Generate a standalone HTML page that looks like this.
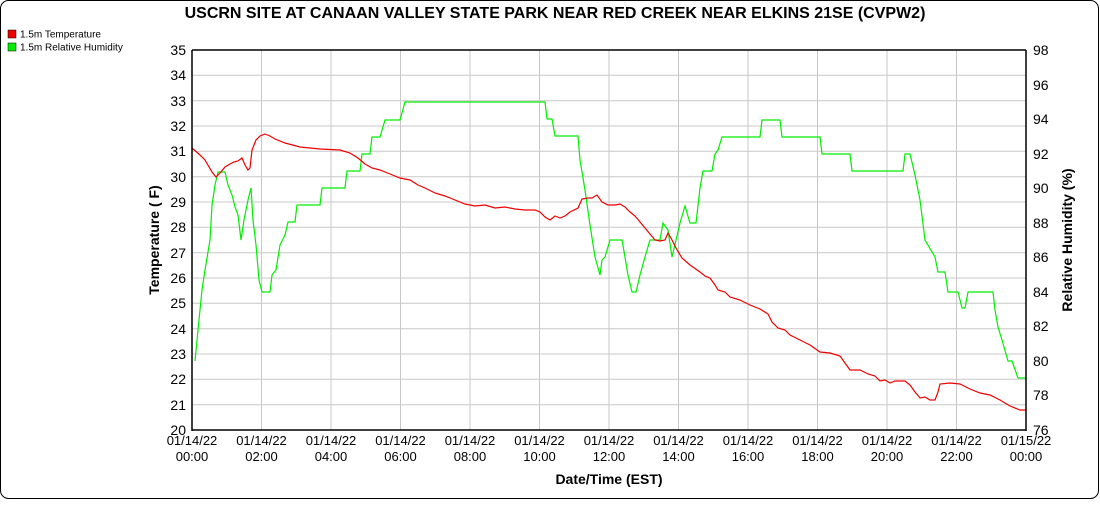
<!DOCTYPE html>
<html><head><style>
body{margin:0;background:#fff;}
svg text{font-family:"Liberation Sans",Arial,sans-serif;}
</style></head><body>
<svg width="1100" height="500" xmlns="http://www.w3.org/2000/svg">
<rect x="0.5" y="0.5" width="1098" height="498" rx="8" fill="#fff" stroke="#000"/>
<text x="555" y="18" text-anchor="middle" font-size="16" font-weight="bold">USCRN SITE AT CANAAN VALLEY STATE PARK NEAR RED CREEK NEAR ELKINS 21SE (CVPW2)</text>
<rect x="8" y="30" width="8" height="8" fill="#e00" stroke="#000" stroke-width="0.5"/>
<text x="20" y="37.5" font-size="10">1.5m Temperature</text>
<rect x="8" y="43" width="8" height="8" fill="#0e0" stroke="#000" stroke-width="0.5"/>
<text x="20" y="50.5" font-size="10">1.5m Relative Humidity</text>
<g stroke="#c8c8c8" stroke-width="1">
<line x1="192" x2="1026" y1="75.3" y2="75.3"/><line x1="192" x2="1026" y1="100.7" y2="100.7"/><line x1="192" x2="1026" y1="126" y2="126"/><line x1="192" x2="1026" y1="151.3" y2="151.3"/><line x1="192" x2="1026" y1="176.7" y2="176.7"/><line x1="192" x2="1026" y1="202" y2="202"/><line x1="192" x2="1026" y1="227.3" y2="227.3"/><line x1="192" x2="1026" y1="252.7" y2="252.7"/><line x1="192" x2="1026" y1="278" y2="278"/><line x1="192" x2="1026" y1="303.3" y2="303.3"/><line x1="192" x2="1026" y1="328.7" y2="328.7"/><line x1="192" x2="1026" y1="354" y2="354"/><line x1="192" x2="1026" y1="379.3" y2="379.3"/><line x1="192" x2="1026" y1="404.7" y2="404.7"/>
<line y1="50" y2="430" x1="261.5" x2="261.5"/><line y1="50" y2="430" x1="331" x2="331"/><line y1="50" y2="430" x1="400.5" x2="400.5"/><line y1="50" y2="430" x1="470" x2="470"/><line y1="50" y2="430" x1="539.5" x2="539.5"/><line y1="50" y2="430" x1="609" x2="609"/><line y1="50" y2="430" x1="678.5" x2="678.5"/><line y1="50" y2="430" x1="748" x2="748"/><line y1="50" y2="430" x1="817.5" x2="817.5"/><line y1="50" y2="430" x1="887" x2="887"/><line y1="50" y2="430" x1="956.5" x2="956.5"/>
</g>
<polyline fill="none" stroke="#0e0" stroke-width="1.2" points="195,361 198,330 202,290 205,270 210,240 212,205 215,185 218,172 225,172 228,185 232,195 235,207 238,215 241,240 244,220 248,200 251,188 253,220 256,245 259,280 262,292 270,292 272,275 276,270 280,245 285,235 288,222 295,222 297,205 320,205 322,188 345,188 347,171 360,171 362,154 370,154 372,137 380,137 385,120 400,120 405,102 545,102 547,119 552,119 555,136 578,136 580,160 585,190 590,225 595,257 600,275 602,260 605,257 610,240 622,240 625,257 628,275 632,292 636,292 640,275 645,257 650,240 660,240 663,223 668,230 672,257 676,240 680,223 685,206 690,223 696,223 700,188 703,171 712,171 715,154 718,150 722,137 760,137 762,120 780,120 782,137 820,137 822,154 850,154 852,171 903,171 905,154 910,154 915,175 920,200 925,240 935,257 938,272 945,272 948,292 958,292 962,308 965,308 968,292 993,292 995,310 998,327 1002,340 1008,361 1012,361 1018,378 1026,378"/>
<polyline fill="none" stroke="#e00" stroke-width="1.2" points="192,148 200,155 205,160 212,172 216,177 220,173 225,167 230,164 234,162 238,161 242,158 245,165 248,170 250,168 252,150 256,140 260,136 265,134 270,136 275,139 285,143 300,147 320,149 340,150 350,153 358,158 365,164 372,168 380,170 390,174 400,178 410,180 418,185 425,188 435,193 445,196 455,200 465,204 475,206 485,205 495,208 505,207 515,209 525,210 535,210 540,212 545,217 550,220 555,216 560,218 565,216 570,212 578,208 582,199 588,198 592,198 597,195 602,202 608,205 615,205 620,204 625,207 630,212 635,216 640,222 645,228 650,234 655,240 660,241 665,240 668,233 672,240 676,248 682,258 690,265 700,272 705,276 710,278 715,285 718,290 725,292 730,297 740,300 750,305 760,309 768,314 772,322 778,328 785,330 790,335 800,340 810,345 820,352 830,353 840,356 850,370 860,370 868,374 875,376 880,381 885,380 890,383 895,381 905,381 910,385 915,392 920,398 925,397 930,400 935,400 938,392 940,384 950,383 960,384 970,389 980,393 990,395 1000,400 1010,406 1020,410 1026,410"/>
<g stroke="#000" stroke-width="1.5" fill="none">
<line x1="192" y1="50" x2="192" y2="431"/><line x1="1026" y1="50" x2="1026" y2="431"/>
<line x1="192" y1="50" x2="1026" y2="50"/><line x1="192" y1="430" x2="1026" y2="430"/>
</g>
<g font-size="14" text-anchor="end">
<text x="186" y="55">35</text><text x="186" y="80">34</text><text x="186" y="106">33</text><text x="186" y="131">32</text><text x="186" y="156">31</text><text x="186" y="182">30</text><text x="186" y="207">29</text><text x="186" y="232">28</text><text x="186" y="258">27</text><text x="186" y="283">26</text><text x="186" y="308">25</text><text x="186" y="334">24</text><text x="186" y="359">23</text><text x="186" y="384">22</text><text x="186" y="410">21</text><text x="186" y="435">20</text>
</g>
<g font-size="14">
<text x="1033" y="55">98</text><text x="1033" y="90">96</text><text x="1033" y="124">94</text><text x="1033" y="159">92</text><text x="1033" y="193">90</text><text x="1033" y="228">88</text><text x="1033" y="262">86</text><text x="1033" y="297">84</text><text x="1033" y="331">82</text><text x="1033" y="366">80</text><text x="1033" y="400">78</text><text x="1033" y="435">76</text>
</g>
<g font-size="13" text-anchor="middle">
<text x="192" y="445">01/14/22</text><text x="192" y="461">00:00</text>
<text x="261.5" y="445">01/14/22</text><text x="261.5" y="461">02:00</text>
<text x="331" y="445">01/14/22</text><text x="331" y="461">04:00</text>
<text x="400.5" y="445">01/14/22</text><text x="400.5" y="461">06:00</text>
<text x="470" y="445">01/14/22</text><text x="470" y="461">08:00</text>
<text x="539.5" y="445">01/14/22</text><text x="539.5" y="461">10:00</text>
<text x="609" y="445">01/14/22</text><text x="609" y="461">12:00</text>
<text x="678.5" y="445">01/14/22</text><text x="678.5" y="461">14:00</text>
<text x="748" y="445">01/14/22</text><text x="748" y="461">16:00</text>
<text x="817.5" y="445">01/14/22</text><text x="817.5" y="461">18:00</text>
<text x="887" y="445">01/14/22</text><text x="887" y="461">20:00</text>
<text x="956.5" y="445">01/14/22</text><text x="956.5" y="461">22:00</text>
<text x="1026" y="445">01/15/22</text><text x="1026" y="461">00:00</text>
</g>
<text x="609" y="484" text-anchor="middle" font-size="14" font-weight="bold">Date/Time (EST)</text>
<text transform="translate(159,240) rotate(-90)" text-anchor="middle" font-size="14" font-weight="bold">Temperature ( F)</text>
<text transform="translate(1072,240) rotate(-90)" text-anchor="middle" font-size="14" font-weight="bold">Relative Humidity (%)</text>
</svg>
</body></html>
